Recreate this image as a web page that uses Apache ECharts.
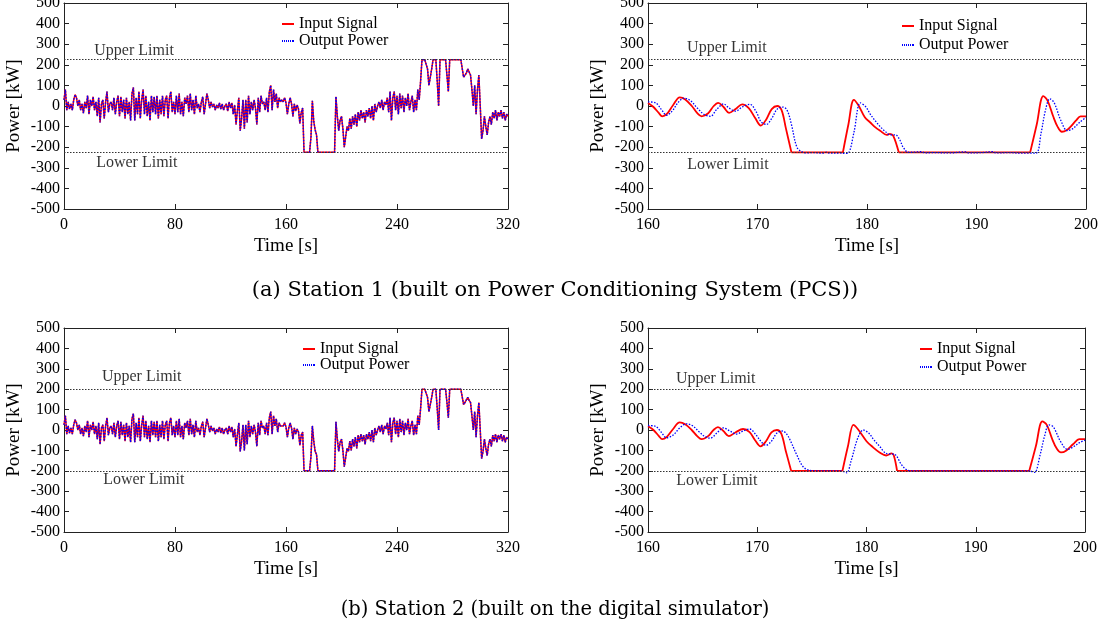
<!DOCTYPE html>
<html>
<head>
<meta charset="utf-8">
<script src="https://cdn.jsdelivr.net/npm/echarts@6/dist/echarts.min.js"></script>
<style>
html,body{margin:0;padding:0;background:#fff;}
#chart{width:1110px;height:630px;}
</style>
</head>
<body>
<div id="chart"></div>
<script>
// ---------------- DATA ----------------
// Overview (0–320 s, one sample per second)
const overviewStart = 0;
const overviewStep = 1;
const station1Power = [
  30, 80, -20, 20, -15, 10, -20, 30, 55, 40,
  0, 30, -20, 10, -35, 20, -10, 50, -40, 30,
  0, 45, -20, 20, -50, 40, -80, 10, 30, -60,
  20, 70, -30, 10, 20, -20, 40, -40, 20, 50,
  -50, 45, -30, 30, -60, 40, -40, 20, -70, 60,
  90, -70, 40, -40, 70, -60, 30, 80, -40, 50,
  -50, 20, -70, 50, -30, 45, -40, 50, -60, 30,
  -40, 50, -50, 30, 50, -60, 40, 70, -30, 20,
  -40, 50, -30, 60, -40, 20, -50, 40, 10, 50,
  -30, 60, -20, 30, -40, 50, -10, 10, -30, 20,
  45, -40, 10, 60, 30, -10, 20, -5, 10, -20,
  5, -10, 15, -15, 10, -20, 0, 10, -25, 20,
  -10, 15, -40, 5, -90, -20, 40, -120, -60, 30,
  -110, 30, -80, 50, -40, 20, -20, 30, -10, -90,
  40, -30, 50, 10, 20, -20, 40, -30, 70, 100,
  -20, 80, 20, 60, -10, 40, 20, 30, 20, 40,
  15, -40, 10, 40, 10, -50, 10, -25, 5, -15,
  -85, -30, -10, -225, -225, -225, -225, -225, -150, 25,
  -75, -115, -140, -225, -225, -225, -225, -225, -225, -225,
  -225, -225, -225, -225, -225, -225, 45, -50, -120, -70,
  -50, -110, -200, -150, -100, -120, -60, -110, -50, -90,
  -40, -100, -30, -70, -20, -60, -30, -80, -20, -50,
  -10, -60, 0, -70, 10, -30, 0, 20, -10, 30,
  -20, 20, 5, 40, -30, 70, -70, 40, 70, -20,
  50, -40, 60, -10, 50, -30, 40, 0, 60, -20,
  20, 50, -30, 30, -20, 80, 30, 120, 225, 225,
  225, 225, 180, 100, 140, 180, 225, 225, 225, 120,
  0, 225, 225, 225, 225, 225, 150, 70, 225, 225,
  225, 225, 225, 225, 225, 225, 225, 225, 140, 150,
  160, 180, 165, 150, 80, 0, 100, -40, 80, 150,
  0, -160, -120, -50, -100, -140, -80, -50, -90, -30,
  -60, -20, -70, -30, -50, -20, -60, -30, -70, -40,
  -50
];
const station2Power = [
  25, 70, -20, 20, -15, 10, -20, 25, 50, 35,
  0, 25, -20, 10, -30, 20, -10, 45, -35, 25,
  0, 40, -20, 20, -45, 35, -70, 10, 25, -55,
  20, 60, -25, 10, 20, -20, 35, -35, 20, 45,
  -45, 40, -25, 25, -55, 35, -35, 20, -60, 55,
  80, -60, 35, -35, 60, -55, 25, 70, -35, 45,
  -45, 20, -60, 45, -25, 40, -35, 45, -55, 25,
  -35, 45, -45, 25, 45, -55, 35, 60, -25, 20,
  -35, 45, -25, 55, -35, 20, -45, 35, 10, 45,
  -25, 55, -20, 25, -35, 45, -10, 10, -25, 20,
  40, -35, 10, 55, 25, -10, 20, -5, 10, -20,
  5, -10, 15, -15, 10, -20, 0, 10, -20, 20,
  -10, 15, -35, 5, -80, -20, 35, -105, -55, 25,
  -100, 25, -70, 45, -35, 20, -20, 25, -10, -80,
  35, -25, 45, 10, 20, -20, 35, -25, 60, 90,
  -20, 70, 20, 55, -10, 35, 20, 25, 20, 35,
  15, -35, 10, 35, 10, -45, 10, -20, 5, -10,
  -75, -25, -10, -200, -200, -200, -200, -200, -130, 20,
  -55, -105, -120, -200, -200, -200, -200, -200, -200, -200,
  -200, -200, -200, -200, -200, -200, 40, -45, -105, -60,
  -45, -100, -180, -135, -90, -105, -55, -100, -45, -80,
  -35, -90, -25, -60, -20, -55, -25, -70, -20, -45,
  -10, -55, 0, -60, 10, -25, 0, 20, -10, 25,
  -20, 20, 5, 35, -25, 60, -60, 35, 60, -20,
  45, -35, 55, -10, 45, -25, 35, 0, 55, -20,
  20, 45, -25, 25, -20, 70, 25, 105, 200, 200,
  200, 200, 160, 90, 125, 160, 200, 200, 200, 105,
  0, 200, 200, 200, 200, 200, 135, 60, 200, 200,
  200, 200, 200, 200, 200, 200, 200, 200, 125, 135,
  140, 160, 145, 135, 70, 0, 90, -35, 70, 135,
  0, -140, -105, -45, -90, -125, -70, -45, -80, -25,
  -55, -20, -60, -25, -45, -20, -55, -25, -60, -35,
  -45
];

// Zoomed view (160–200 s), [time, power]; '-' marks a break in the line
const station1ZoomInput = [
  [160,15],[160.5,-5],[161,-35],[161.3,-50],[161.7,-40],[162.3,5],[162.9,42],[163.4,32],[164,0],
  [164.5,-35],[164.9,-50],[165.5,-35],[166,0],[166.4,15],[166.9,-5],[167.4,-33],[168,-15],[168.6,8],
  [169.2,-10],[169.8,-60],[170.3,-95],[170.8,-65],[171.3,-15],[171.8,0],[172.2,-20],[172.6,-110],[173.1,-225],
  [173.1,'-'],[173.1,-225],[177.8,-225],[177.8,'-'],
  [177.8,-225],[178.3,-90],[178.8,30],[179.2,5],[179.8,-55],[180.3,-80],[180.8,-105],[181.2,-120],
  [181.8,-140],[182.1,-135],[182.4,-145],[182.9,-225],
  [182.9,'-'],[182.9,-225],[194.9,-225],[194.9,'-'],
  [194.9,-225],[195.5,-90],[196.1,48],[196.5,25],[197,-50],[197.4,-100],[197.8,-125],[198.3,-115],
  [198.6,-100],[199.1,-70],[199.5,-50],[200,-50]
];
const station1ZoomOutput = [
  [160,20],[160.7,15],[161.2,-15],[161.7,-45],[162.2,-25],[162.8,20],[163.3,38],[163.9,25],[164.5,-10],
  [165.1,-40],[165.7,-50],[166.3,-15],[166.9,10],[167.4,-10],[168,-25],[168.6,-5],[169.3,8],[169.9,-30],
  [170.3,-75],[170.8,-90],[171.3,-60],[171.8,-15],[172.3,-5],[172.7,-20],[173.1,-90],[173.6,-200],
  [174.1,-224],[174.5,-228],[175,-226],[176,-229],[176.3,-224],[176.6,-229],[177.5,-228],[178,-230],
  [178.3,-228],[178.8,-130],[179.4,15],[179.9,-5],[180.3,-40],[180.8,-75],[181.2,-100],[181.7,-125],
  [182.1,-140],[182.6,-140],[183,-165],[183.3,-200],[183.8,-225],[185,-222],[185.3,-228],[186,-226],
  [187.5,-228],[189,-223],[189.3,-228],[190.5,-226],[191.5,-222],[191.8,-228],[193,-226],[194,-229],
  [195.4,-229],[195.9,-130],[196.3,-20],[196.7,35],[197.1,15],[197.7,-70],[198.3,-120],[198.8,-110],
  [199.4,-80],[200,-55]
];
const station2ZoomInput = [
  [160,18],[160.5,0],[161,-30],[161.3,-45],[161.7,-35],[162.3,5],[162.9,37],[163.4,28],[164,0],
  [164.5,-30],[164.9,-45],[165.5,-30],[166,0],[166.4,14],[166.9,-5],[167.4,-30],[168,-12],[168.7,5],
  [169.3,-10],[169.8,-50],[170.3,-80],[170.8,-55],[171.3,-12],[171.8,0],[172.2,-18],[172.6,-100],[173.1,-200],
  [173.1,'-'],[173.1,-200],[177.8,-200],[177.8,'-'],
  [177.8,-200],[178.3,-80],[178.8,25],[179.2,5],[180,-55],[180.6,-85],[181.2,-110],[181.8,-125],
  [182.3,-115],[182.5,-125],[182.8,-200],
  [182.8,'-'],[182.8,-200],[194.9,-200],[194.9,'-'],
  [194.9,-200],[195.5,-80],[196.1,42],[196.5,25],[197,-45],[197.4,-90],[197.8,-110],[198.3,-100],
  [198.9,-70],[199.5,-45],[200,-45]
];
const station2ZoomOutput = [
  [160,22],[160.7,18],[161.2,-10],[161.7,-38],[162.3,-25],[162.9,10],[163.5,30],[164.1,20],[164.7,-10],
  [165.2,-32],[165.7,-40],[166.3,-15],[166.9,10],[167.5,-5],[168.1,-20],[168.7,-5],[169.3,5],[169.9,-25],
  [170.4,-60],[170.8,-75],[171.3,-55],[171.8,-15],[172.3,-5],[172.7,-20],[173.1,-60],[173.6,-120],
  [174.2,-180],[174.8,-198],[175.5,-200],[177.5,-200],[178,-205],[178.2,-210],[178.6,-150],[179.2,-40],
  [179.7,0],[180.2,-15],[180.7,-50],[181.2,-80],[181.8,-115],[182.3,-118],[182.6,-120],[183.2,-170],
  [183.6,-192],[184,-200],[194.9,-200],[195.2,-205],[195.4,-208],[195.9,-120],[196.3,-30],[196.7,25],
  [197.1,15],[197.8,-60],[198.4,-95],[199,-80],[199.5,-62],[200,-50]
];

const station1Limit = 225;
const station2Limit = 200;

const overviewTicks = { min: 0, max: 320, interval: 80 };
const zoomTicks = { min: 160, max: 200, interval: 10 };
const powerTicks = { min: -500, max: 500, interval: 100 };

const seriesNames = ['Input Signal', 'Output Power'];
const captions = [
  '(a) Station 1 (built on Power Conditioning System (PCS))',
  '(b) Station 2 (built on the digital simulator)'
];

// ---------------- LAYOUT / STYLE ----------------
const SERIF = 'Liberation Serif';
const grids = [
  { left: 64, top: 3, width: 444, height: 206 },
  { left: 648, top: 3, width: 438, height: 206 },
  { left: 64, top: 328, width: 444, height: 204 },
  { left: 648, top: 328, width: 437, height: 204 }
];
const legendPos = [
  { left: 282, top: 16, itemGap: 1 },
  { left: 902, top: 18, itemGap: 3 },
  { left: 303, top: 341, itemGap: 0 },
  { left: 920, top: 341, itemGap: 2 }
];
const solidIcon = 'path://M0,0h12v2h-12z';
const dottedIcon = 'path://M0,0h1v2h-1zM2,0h1v2h-1zM4,0h1v2h-1zM6,0h1v2h-1zM8,0h1v2h-1zM10,0h1v2h-1zM11,0h1v2h-1z';
// limit-label anchors in data coordinates of each panel
const limitNotes = [
  [[50.5, 268, 'Upper Limit'], [52.5, -276, 'Lower Limit']],
  [[167.2, 281, 'Upper Limit'], [167.3, -285, 'Lower Limit']],
  [[56, 260, 'Upper Limit'], [57.5, -242, 'Lower Limit']],
  [[166.2, 253, 'Upper Limit'], [166.3, -250, 'Lower Limit']]
];

const toOverview = arr => arr.map((v, i) => [overviewStart + i * overviewStep, v]);

const axisLineStyle = { color: '#222', width: 1 };
function xAxes(gi, ticks, pos) {
  const bottom = pos === 'bottom';
  return {
    type: 'value', gridIndex: gi, position: pos,
    min: ticks.min, max: ticks.max, interval: ticks.interval,
    axisLine: { show: true, onZero: false, lineStyle: axisLineStyle },
    axisTick: { show: true, inside: true, length: 5, lineStyle: axisLineStyle },
    axisLabel: { show: bottom, color: '#000', fontFamily: SERIF, fontSize: 16, margin: 8,
      showMinLabel: true, showMaxLabel: true, hideOverlap: false },
    splitLine: { show: false },
    name: bottom ? 'Time [s]' : '', nameLocation: 'middle', nameGap: 28,
    nameTextStyle: { color: '#000', fontFamily: SERIF, fontSize: 19 }
  };
}
function yAxes(gi, pos) {
  const left = pos === 'left';
  return {
    type: 'value', gridIndex: gi, position: pos,
    min: powerTicks.min, max: powerTicks.max, interval: powerTicks.interval,
    axisLine: { show: true, onZero: false, lineStyle: axisLineStyle },
    axisTick: { show: true, inside: true, length: 5, lineStyle: axisLineStyle },
    axisLabel: { show: left, color: '#000', fontFamily: SERIF, fontSize: 16, margin: 4,
      showMinLabel: true, showMaxLabel: true, hideOverlap: false },
    splitLine: { show: false },
    name: left ? 'Power [kW]' : '', nameLocation: 'middle', nameGap: 40,
    nameTextStyle: { color: '#000', fontFamily: SERIF, fontSize: 19 }
  };
}

function inputSeries(gi, data, limit, width, smooth) {
  return {
    type: 'line', name: seriesNames[0], xAxisIndex: gi, yAxisIndex: gi,
    data: data, symbol: 'none', smooth: smooth, connectNulls: false,
    lineStyle: { color: '#ff0000', width: width, type: 'solid' },
    itemStyle: { color: '#ff0000' },
    z: 3,
    markLine: {
      silent: true, symbol: ['none', 'none'], label: { show: false },
      lineStyle: { color: '#333', width: 1.2, type: [1.5, 1.5] },
      data: [{ yAxis: limit }, { yAxis: -limit }]
    }
  };
}
function outputSeries(gi, data, width, smooth) {
  return {
    type: 'line', name: seriesNames[1], xAxisIndex: gi, yAxisIndex: gi,
    data: data, symbol: 'none', smooth: smooth,
    lineStyle: { color: '#0000ff', width: width, type: [1.5, 1.5] },
    itemStyle: { color: '#0000ff' },
    z: 4
  };
}
function noteSeries(gi, notes) {
  return {
    type: 'scatter', xAxisIndex: gi, yAxisIndex: gi, silent: true,
    symbolSize: 1, itemStyle: { color: 'rgba(0,0,0,0)' }, z: 5,
    data: notes.map(n => ({
      value: [n[0], n[1]],
      label: { show: true, position: 'inside', formatter: n[2], color: '#000',
        fontFamily: SERIF, fontSize: 16 }
    }))
  };
}

const option = {
  animation: false,
  backgroundColor: '#fff',
  title: [
    { text: captions[0], left: 'center', top: 275,
      textStyle: { fontFamily: 'DejaVu Serif', fontSize: 21, fontWeight: 'normal', color: '#000' } },
    { text: captions[1], left: 'center', top: 595,
      textStyle: { fontFamily: 'DejaVu Serif', fontSize: 19.5, fontWeight: 'normal', color: '#000' } }
  ],
  grid: grids.map(g => Object.assign({ containLabel: false, outerBoundsMode: 'none', show: false }, g)),
  legend: legendPos.map(p => ({
    orient: 'vertical', left: p.left, top: p.top, itemGap: p.itemGap,
    itemWidth: 12, itemHeight: 2, padding: 0,
    data: [
      { name: seriesNames[0], icon: solidIcon },
      { name: seriesNames[1], icon: dottedIcon }
    ],
    selectedMode: false,
    textStyle: { fontFamily: SERIF, fontSize: 16, color: '#000' }
  })),
  xAxis: [
    xAxes(0, overviewTicks, 'bottom'), xAxes(1, zoomTicks, 'bottom'),
    xAxes(2, overviewTicks, 'bottom'), xAxes(3, zoomTicks, 'bottom'),
    xAxes(0, overviewTicks, 'top'), xAxes(1, zoomTicks, 'top'),
    xAxes(2, overviewTicks, 'top'), xAxes(3, zoomTicks, 'top')
  ],
  yAxis: [
    yAxes(0, 'left'), yAxes(1, 'left'), yAxes(2, 'left'), yAxes(3, 'left'),
    yAxes(0, 'right'), yAxes(1, 'right'), yAxes(2, 'right'), yAxes(3, 'right')
  ],
  series: [
    inputSeries(0, toOverview(station1Power), station1Limit, 1.5, false),
    outputSeries(0, toOverview(station1Power), 1.4, false),
    inputSeries(1, station1ZoomInput, station1Limit, 1.8, 0.35),
    outputSeries(1, station1ZoomOutput, 1.3, 0.35),
    inputSeries(2, toOverview(station2Power), station2Limit, 1.5, false),
    outputSeries(2, toOverview(station2Power), 1.4, false),
    inputSeries(3, station2ZoomInput, station2Limit, 1.8, 0.35),
    outputSeries(3, station2ZoomOutput, 1.3, 0.35),
    noteSeries(0, limitNotes[0]), noteSeries(1, limitNotes[1]),
    noteSeries(2, limitNotes[2]), noteSeries(3, limitNotes[3])
  ]
};

const chart = echarts.init(document.getElementById('chart'), null, { renderer: 'canvas' });
chart.setOption(option);
</script>
</body>
</html>
